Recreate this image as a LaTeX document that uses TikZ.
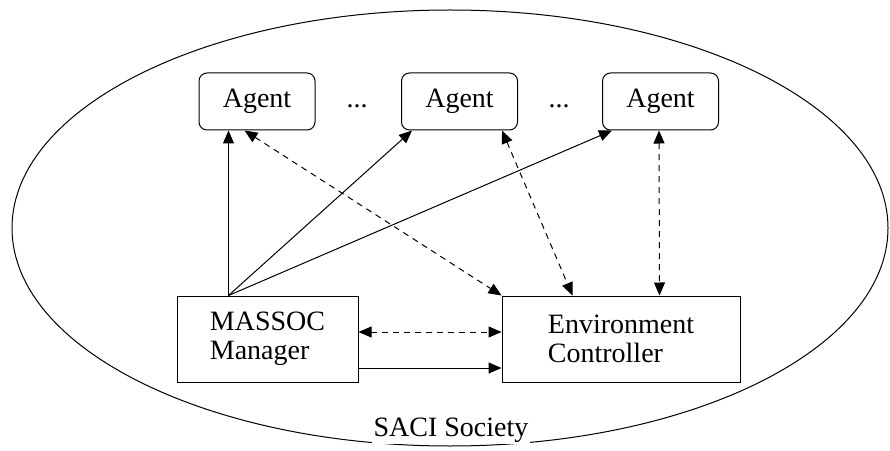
\documentclass[tikz,border=0pt]{standalone}
\usepackage{fontspec}
\setmainfont{Liberation Serif}
\usetikzlibrary{arrows.meta, shapes.geometric}

\begin{document}
\begin{tikzpicture}[x=1pt, y=1pt, line width=1pt,
    txt/.style={font=\fontsize{28}{29}\selectfont, inner sep=0pt},
    agent/.style={txt, draw, rounded corners=8pt, minimum width=116pt, minimum height=57pt},
    unit/.style={txt, draw, align=left, minimum height=86pt},
    link/.style={-{Triangle[length=13pt, width=11pt]}},
    dlink/.style={{Triangle[length=13pt, width=11pt]}-{Triangle[length=13pt, width=11pt]}, dash pattern=on 6pt off 5pt}]
            \useasboundingbox (0,0) rectangle (890,450);
            % society boundary
            \node[draw, ellipse, minimum width=876pt, minimum height=436pt, inner sep=0pt]
                  (soc) at (450,222) {};
            \node[txt, fill=white, inner sep=2pt] (name) at (451,20) {SACI Society};
            % agents
            \node[agent] (a1) at (257,348.5) {Agent};
            \node[agent] (a2) at (459.5,348.5) {Agent};
            \node[agent] (a3) at (660.5,348.5) {Agent};
            \node[txt, anchor=base] (d1) at (357,342) {...};
            \node[txt, anchor=base] (d2) at (559,342) {...};
            % manager and controller
            \node[unit, minimum width=181pt] (man) at (267.5,111) {MASSOC\\Manager};
            \node[unit, minimum width=238pt] (env) at (621,111) {Environment\\Controller};
            % links
            \draw[link] ([xshift=52pt]man.north west) -- ([xshift=30pt]a1.south west);
            \draw[link] ([xshift=52pt]man.north west) -- ([xshift=11pt]a2.south west);
            \draw[link] ([xshift=52pt]man.north west) -- ([xshift=10pt]a3.south west);
            \draw[dlink] ([xshift=46pt]a1.south west) -- (env.north west);
            \draw[dlink] ([xshift=101pt]a2.south west) -- ([xshift=71pt]env.north west);
            \draw[dlink] ([xshift=57pt]a3.south west) -- ([xshift=158pt]env.north west);
            \draw[dlink] ([yshift=7pt]man.east) -- ([yshift=7pt]env.west);
            \draw[link] ([yshift=-29pt]man.east) -- ([yshift=-29pt]env.west);
\end{tikzpicture}
\end{document}
